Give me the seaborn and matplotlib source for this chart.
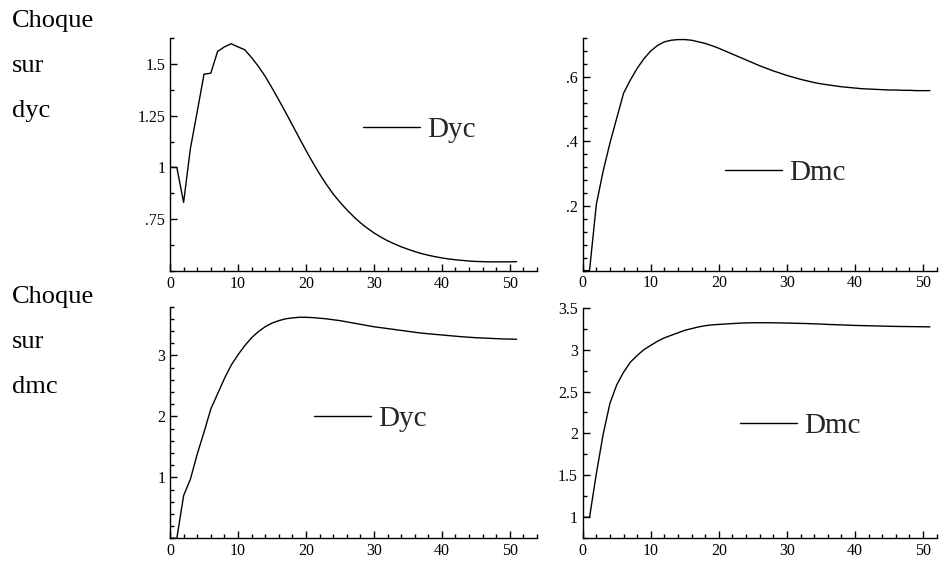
"""Impulse responses: Choque sur dyc / dmc (2x2 panels)."""

import matplotlib
matplotlib.use("Agg")
import matplotlib.pyplot as plt
from matplotlib.ticker import MultipleLocator, FixedLocator, FuncFormatter
import seaborn as sns

periods = list(range(52))

# shock on dyc -> response of Dyc
dyc_on_dyc = [1.0, 1.0, 0.831, 1.092, 1.269, 1.45, 1.455, 1.56, 1.582, 1.597,
              1.582, 1.568, 1.53, 1.488, 1.44, 1.384, 1.326, 1.266, 1.205, 1.143,
              1.082, 1.024, 0.969, 0.918, 0.872, 0.832, 0.796, 0.763, 0.733, 0.707,
              0.684, 0.664, 0.646, 0.631, 0.617, 0.605, 0.594, 0.584, 0.576, 0.569,
              0.563, 0.558, 0.554, 0.551, 0.548, 0.546, 0.545, 0.544, 0.544, 0.544,
              0.544, 0.545]
# shock on dyc -> response of Dmc
dyc_on_dmc = [0.0, 0.0, 0.205, 0.308, 0.395, 0.472, 0.549, 0.59, 0.626, 0.656,
              0.68, 0.697, 0.708, 0.713, 0.715, 0.715, 0.713, 0.708, 0.703, 0.696,
              0.688, 0.679, 0.67, 0.661, 0.652, 0.643, 0.634, 0.626, 0.618, 0.611,
              0.604, 0.598, 0.592, 0.587, 0.582, 0.578, 0.575, 0.572, 0.569, 0.567,
              0.565, 0.563, 0.562, 0.561, 0.56, 0.559, 0.559, 0.558, 0.558, 0.557,
              0.557, 0.557]
# shock on dmc -> response of Dyc
dmc_on_dyc = [0.0, 0.0, 0.70, 0.97, 1.38, 1.74, 2.12, 2.37, 2.62, 2.84,
              3.01, 3.16, 3.29, 3.39, 3.47, 3.53, 3.57, 3.60, 3.615, 3.625,
              3.625, 3.62, 3.61, 3.60, 3.585, 3.57, 3.55, 3.53, 3.51, 3.49,
              3.47, 3.455, 3.44, 3.425, 3.41, 3.395, 3.38, 3.365, 3.355, 3.345,
              3.335, 3.325, 3.315, 3.305, 3.298, 3.29, 3.285, 3.28, 3.275, 3.27,
              3.267, 3.265]
# shock on dmc -> response of Dmc
dmc_on_dmc = [1.0, 1.0, 1.52, 1.99, 2.36, 2.58, 2.73, 2.85, 2.93, 3.0,
              3.05, 3.10, 3.14, 3.17, 3.20, 3.23, 3.25, 3.27, 3.285, 3.295,
              3.30, 3.305, 3.31, 3.315, 3.318, 3.32, 3.32, 3.32, 3.319, 3.318,
              3.316, 3.314, 3.312, 3.31, 3.307, 3.304, 3.30, 3.297, 3.294, 3.291,
              3.288, 3.286, 3.284, 3.282, 3.28, 3.278, 3.276, 3.275, 3.274, 3.273,
              3.272, 3.271]

row_labels = [["Choque", "sur", "dyc"], ["Choque", "sur", "dmc"]]
x_ticks = [0, 10, 20, 30, 40, 50]


def strip_zero(v, _pos):
    s = f"{v:g}"
    if s.startswith("0."):
        s = s[1:]
    return s


sns.set_style("ticks")
plt.rcParams["font.family"] = ["Liberation Serif", "DejaVu Serif"]

fig = plt.figure(figsize=(9.42, 5.65), dpi=100)

panels = [
    # (data, label, [l, b, w, h], xmax, ylim, yticks, yminor, legend anchor)
    (dyc_on_dyc, "Dyc", [0.1805, 0.5204, 0.3896, 0.4124], 54, (0.5, 1.625),
     [0.75, 1.0, 1.25, 1.5], 0.125, (0.526, 0.605)),
    (dyc_on_dmc, "Dmc", [0.6186, 0.5210, 0.3758, 0.4118], 52, (0.0, 0.72),
     [0.2, 0.4, 0.6], 0.04, (0.402, 0.419)),
    (dmc_on_dyc, "Dyc", [0.1805, 0.0473, 0.3896, 0.4100], 54, (0.0, 3.8),
     [1, 2, 3], 0.2, (0.392, 0.515)),
    (dmc_on_dmc, "Dmc", [0.6186, 0.0473, 0.3758, 0.4082], 52, (0.75, 3.5),
     [1, 1.5, 2, 2.5, 3, 3.5], 0.25, (0.444, 0.487)),
]

for values, name, rect, xmax, ylim, yticks, yminor, anchor in panels:
    ax = fig.add_axes(rect)
    sns.lineplot(x=periods, y=values, color="black", linewidth=1.0,
                 label=name, ax=ax)
    ax.set_xlim(0, xmax)
    ax.set_ylim(*ylim)
    ax.xaxis.set_major_locator(FixedLocator(x_ticks))
    ax.xaxis.set_minor_locator(MultipleLocator(2))
    ax.yaxis.set_major_locator(FixedLocator(yticks))
    ax.yaxis.set_minor_locator(MultipleLocator(yminor))
    ax.yaxis.set_major_formatter(FuncFormatter(strip_zero))
    ax.tick_params(which="both", direction="in", labelsize=11.5, color="black",
                   labelcolor="black")
    ax.tick_params(which="major", length=5, width=1)
    ax.tick_params(which="minor", length=3, width=1)
    for side in ("top", "right"):
        ax.spines[side].set_visible(False)
    for side in ("left", "bottom"):
        ax.spines[side].set_color("black")
        ax.spines[side].set_linewidth(1.0)
    ax.set_xlabel("")
    ax.set_ylabel("")
    ax.legend(loc="center left", bbox_to_anchor=anchor, frameon=False,
              fontsize=21, handlelength=1.95, handletextpad=0.25,
              borderpad=0, borderaxespad=0)

baselines = [[27, 72, 117], [303, 348, 393]]
for words, ys in zip(row_labels, baselines):
    for word, y in zip(words, ys):
        fig.text(12 / 942, 1 - y / 565, word, fontsize=19, va="baseline",
                 ha="left", color="black")

fig.savefig("out.png", dpi=100)
